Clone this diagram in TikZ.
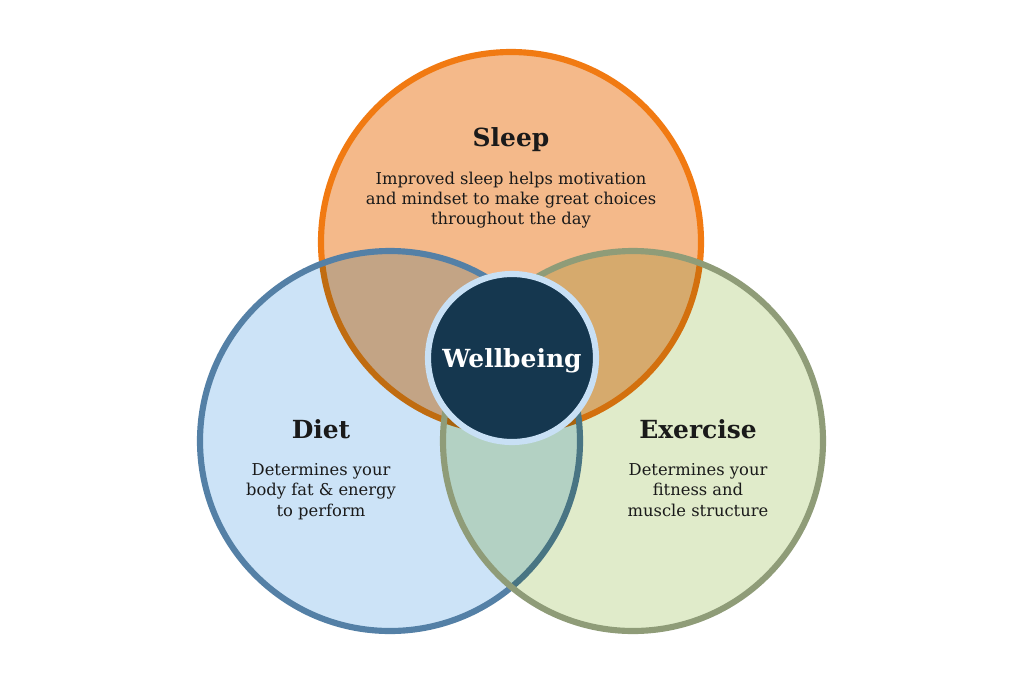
\documentclass[tikz,border=0pt]{standalone}
\usepackage{fontspec}
\setmainfont{DejaVu Serif}
\usetikzlibrary{positioning}
\definecolor{sleepline}{HTML}{F17A12}
\definecolor{sleepfill}{HTML}{F4B98A}
\definecolor{dietline}{HTML}{5480A6}
\definecolor{dietfill}{HTML}{CCE3F7}
\definecolor{exerciseline}{HTML}{8F9C78}
\definecolor{exercisefill}{HTML}{E0EBCA}
\definecolor{hubfill}{HTML}{15374F}
\definecolor{hubline}{HTML}{C8E0F5}
\definecolor{ink}{HTML}{1A1A1A}
\tikzset{
x=0.75pt, y=-0.75pt, % one unit is one pixel of the picture, y runs downwards
ring/.style={line width=4.6pt}, % outline of the three big circles
title/.style={font=\bfseries\fontsize{18.7}{22}\selectfont, text=ink, inner sep=0pt, anchor=base}, % circle headings
blurb/.style={font=\fontsize{12.25}{15.2}\selectfont, text=ink, inner sep=0pt, align=center}, % small text under a heading
}

\begin{document}
\begin{tikzpicture}
  \useasboundingbox (0,0) rectangle (1024,683);
  \coordinate (sleepC) at (511,242);
  \coordinate (dietC) at (390,441);
  \coordinate (exerciseC) at (633,441);

  \fill[sleepfill] (sleepC) circle (190);
  \draw[ring, sleepline] (sleepC) circle (190);
  \fill[dietfill, blend mode=multiply] (dietC) circle (190);
  \draw[ring, dietline] (dietC) circle (190);
  \fill[exercisefill, blend mode=multiply] (exerciseC) circle (190);
  \draw[ring, exerciseline] (exerciseC) circle (190);

  \node[circle, fill=hubfill, draw=hubline, line width=4.6pt, minimum size=126pt, inner sep=0pt, text depth=0pt,
        font=\bfseries\fontsize{18.7}{22}\selectfont, text=white] (hub) at (512,358) {Wellbeing};

  \node[title] (sleepTitle) at (511,146) {Sleep};
  \node[blurb, below=19pt of sleepTitle.base] (sleepText) {Improved sleep helps motivation\\and mindset to make great choices\\throughout the day};

  \node[title] (dietTitle) at (321,438) {Diet};
  \node[blurb, below=19pt of dietTitle.base] (dietText) {Determines your\\body fat \& energy\\to perform};

  \node[title] (exerciseTitle) at (698,438) {Exercise};
  \node[blurb, below=19pt of exerciseTitle.base] (exerciseText) {Determines your\\fitness and\\muscle structure};
\end{tikzpicture}
\end{document}
